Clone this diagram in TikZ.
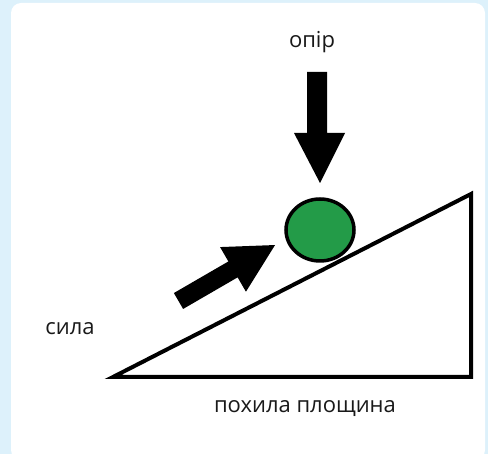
\documentclass[tikz,border=0pt]{standalone}
\usepackage{fontspec}
\setmainfont{Open Sans}
\usetikzlibrary{shapes.geometric}
\definecolor{bgblue}{HTML}{DDF1FB}
\definecolor{ballgreen}{HTML}{239B48}
\tikzset{
  lbl/.style={font=\fontsize{22}{26}\selectfont, text=black!90, inner sep=0pt},
  blackarrow/.style={fill=black, draw=none},
}
\begin{document}
\begin{tikzpicture}[x=1pt,y=-1pt]
\useasboundingbox (0,0) rectangle (488,454);
\fill[bgblue] (0,0) rectangle (488,454);
\fill[white, rounded corners=10pt] (11,3) rectangle (485,460);
% incline
\coordinate (A) at (113,377);
\coordinate (B) at (471,377);
\coordinate (C) at (471,194);
\draw[line width=4pt, line join=miter] (A) -- (B) -- (C) -- cycle;
% ball
\node[ellipse, draw=black, line width=3.5pt, fill=ballgreen, minimum width=68pt, minimum height=62pt, inner sep=0pt] (ball) at (320,230) {};
% down arrow (resistance)
\fill[blackarrow] (307,72) -- (327,72) -- (327,133) -- (345,133) -- (320,183) -- (294,133) -- (307,133) -- cycle;
% slanted arrow (force)
\begin{scope}[shift={(178.5,301)}, rotate=30.1]
\fill[blackarrow] (0,-9.2) -- (63,-9.2) -- (63,-25.8) -- (111.6,0) -- (63,25.8) -- (63,9.2) -- (0,9.2) -- cycle;
\end{scope}
% labels
\node[lbl] (opir) at (312,42) {опір};
\node[lbl] (syla) at (70,329) {сила};
\node[lbl] (plane) at (305,409) {похила площина};
\end{tikzpicture}
\end{document}
